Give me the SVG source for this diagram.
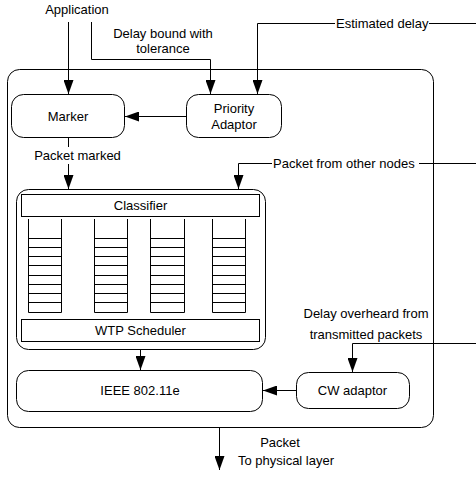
<svg xmlns="http://www.w3.org/2000/svg" width="476" height="477" viewBox="0 0 476 477">
<defs>
<marker id="ah" markerUnits="userSpaceOnUse" markerWidth="14" markerHeight="10" refX="14" refY="5" orient="auto"><path d="M0,0 L14,5 L0,10 z" fill="#000"/></marker>
<style>
text{font-family:"Liberation Sans",Arial,sans-serif;font-size:13px;fill:#000}
.c{text-anchor:middle}
.box{fill:#fff;stroke:#000;stroke-width:1}
.ln{fill:none;stroke:#000;stroke-width:1}
.arr{fill:none;stroke:#000;stroke-width:1;marker-end:url(#ah)}
</style>
</defs>
<rect width="476" height="477" fill="#fff"/>
<g id="system"><rect class="box" x="7.5" y="69.5" width="426" height="358" rx="12"/></g>
<g id="marker"><rect class="box" x="11.5" y="94.5" width="113" height="43" rx="12"/><text class="c" x="68" y="120.5">Marker</text></g>
<g id="priority-adaptor"><rect class="box" x="186.5" y="94.5" width="95" height="43" rx="12"/><text class="c" x="234" y="112.5">Priority</text><text class="c" x="234" y="128.5">Adaptor</text></g>
<g id="queue-block">
<rect class="box" x="16.5" y="189.5" width="249" height="160" rx="12"/>
<rect class="box" x="21.5" y="194.5" width="238" height="22"/>
<text class="c" x="140.5" y="210">Classifier</text>
<rect class="box" x="21.5" y="319.5" width="238" height="22"/>
<text class="c" x="140.5" y="335">WTP Scheduler</text>
<g class="ln" id="queues">
<path d="M28.5,219 V312.5 H61.5 V219 M94.5,219 V312.5 H127.5 V219 M150.5,219 V312.5 H184.5 V219 M212.5,219 V312.5 H245.5 V219"/>
<path d="M28.5,238.5 H61.5 M28.5,247.5 H61.5 M28.5,256.5 H61.5 M28.5,265.5 H61.5 M28.5,275.5 H61.5 M28.5,284.5 H61.5 M28.5,293.5 H61.5 M28.5,302.5 H61.5"/>
<path d="M94.5,238.5 H127.5 M94.5,247.5 H127.5 M94.5,256.5 H127.5 M94.5,265.5 H127.5 M94.5,275.5 H127.5 M94.5,284.5 H127.5 M94.5,293.5 H127.5 M94.5,302.5 H127.5"/>
<path d="M150.5,238.5 H184.5 M150.5,247.5 H184.5 M150.5,256.5 H184.5 M150.5,265.5 H184.5 M150.5,275.5 H184.5 M150.5,284.5 H184.5 M150.5,293.5 H184.5 M150.5,302.5 H184.5"/>
<path d="M212.5,238.5 H245.5 M212.5,247.5 H245.5 M212.5,256.5 H245.5 M212.5,265.5 H245.5 M212.5,275.5 H245.5 M212.5,284.5 H245.5 M212.5,293.5 H245.5 M212.5,302.5 H245.5"/>
</g>
</g>
<g id="ieee"><rect class="box" x="16.5" y="370.5" width="246" height="41" rx="12"/><text class="c" x="140" y="394.5">IEEE 802.11e</text></g>
<g id="cw-adaptor"><rect class="box" x="296.5" y="372.5" width="113" height="36" rx="12"/><text class="c" x="352.5" y="395">CW adaptor</text></g>
<g id="connectors">
<path class="arr" d="M68.5,22 V94"/>
<path class="arr" d="M91.5,22 V59.5 H210.5 V94"/>
<path class="ln" d="M476,23.5 H429"/>
<path class="arr" d="M335,23.5 H257.5 V94"/>
<path class="arr" d="M186,116.5 H125"/>
<path class="ln" d="M68.5,137 V147"/>
<path class="arr" d="M68.5,164 V189"/>
<path class="ln" d="M476,163.5 H419"/>
<path class="arr" d="M272,163.5 H238.5 V189"/>
<path class="arr" d="M140.5,349 V370"/>
<path class="arr" d="M296,390.5 H263"/>
<path class="arr" d="M476,343.5 H352.5 V372"/>
<path class="arr" d="M219.5,427 V470"/>
</g>
<g id="labels">
<text class="c" x="77" y="13.5">Application</text>
<text class="c" x="163" y="38">Delay bound with</text>
<text class="c" x="163" y="53">tolerance</text>
<text x="336" y="27.5">Estimated delay</text>
<text class="c" x="77.5" y="160">Packet marked</text>
<text x="273" y="167.5">Packet from other nodes</text>
<text class="c" x="366" y="318">Delay overheard from</text>
<text class="c" x="366" y="339">transmitted packets</text>
<text class="c" x="280" y="447">Packet</text>
<text class="c" x="286" y="465">To physical layer</text>
</g>
</svg>
